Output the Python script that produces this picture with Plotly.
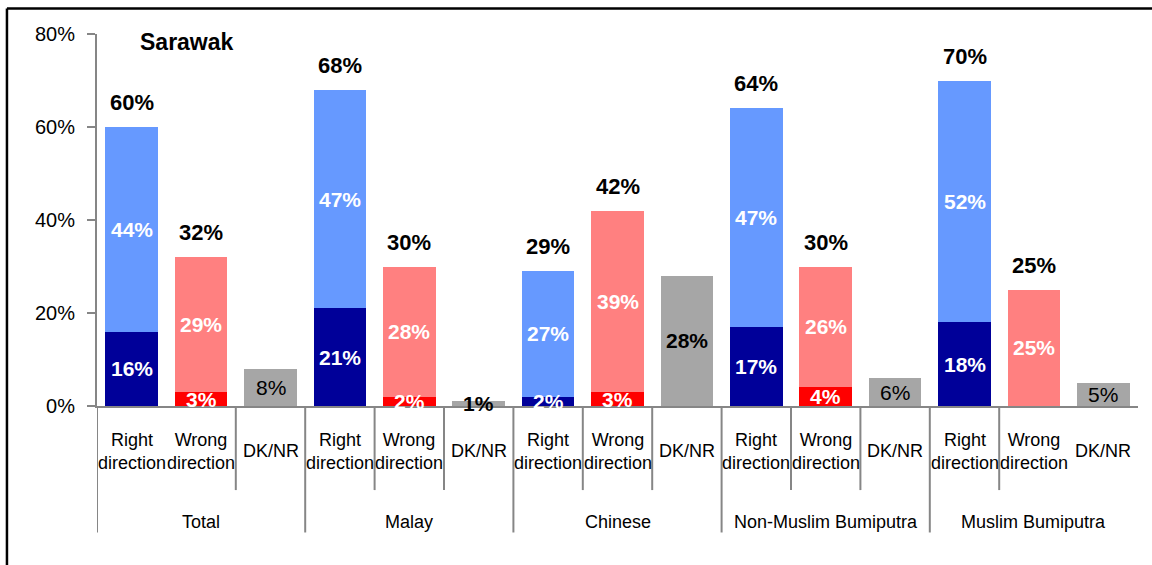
import plotly.graph_objects as go

# ---------------- data ----------------
groups = ["Total", "Malay", "Chinese", "Non-Muslim Bumiputra", "Muslim Bumiputra"]
categories = ["Right<br>direction", "Wrong<br>direction", "DK/NR"]

right_strong = [16, 21, 2, 17, 18]
right_some = [44, 47, 27, 47, 52]
wrong_strong = [3, 2, 3, 4, 0]
wrong_some = [29, 28, 39, 26, 25]
dk_nr = [8, 1, 28, 6, 5]

right_total = [60, 68, 29, 64, 70]
wrong_total = [32, 30, 42, 30, 25]

y_ticks = [0, 20, 40, 60, 80]
y_ticktext = ["0%", "20%", "40%", "60%", "80%"]

# boundaries (between category slots) where separators are drawn
inner_bounds = [1.5, 3.5, 4.5, 6.5, 7.5, 9.5, 10.5, 12.5]
group_bounds = [-0.5, 2.5, 5.5, 8.5, 11.5]

title_text = "Sarawak"

# ---------------- positions ----------------
n_cat = len(categories)
xr = [g * n_cat + 0 for g in range(len(groups))]
xw = [g * n_cat + 1 for g in range(len(groups))]
xd = [g * n_cat + 2 for g in range(len(groups))]

FONT = "Liberation Sans, Arial, sans-serif"
C_NAVY = "#000099"
C_LBLUE = "#6699FF"
C_RED = "#FF0000"
C_PINK = "#FF8080"
C_GRAY = "#A6A6A6"
AX = "#868686"
BW = 0.76

fig = go.Figure()
fig.add_bar(x=xr, y=right_strong, marker_color=C_NAVY, width=BW, marker_line_width=0)
fig.add_bar(x=xr, y=right_some, marker_color=C_LBLUE, width=BW, marker_line_width=0)
fig.add_bar(x=xw, y=wrong_strong, marker_color=C_RED, width=BW, marker_line_width=0)
fig.add_bar(x=xw, y=wrong_some, marker_color=C_PINK, width=BW, marker_line_width=0)
fig.add_bar(x=xd, y=dk_nr, marker_color=C_GRAY, width=BW, marker_line_width=0)

ann = []


def seg_labels(xs, bases, vals, color="white", size=21):
    for x, b, v in zip(xs, bases, vals):
        if v <= 0:
            continue
        ann.append(dict(x=x, y=b + v / 2, xref="x", yref="y", text=f"<b>{v}%</b>",
                        showarrow=False, font=dict(family=FONT, size=size, color=color)))


seg_labels(xr, [0] * 5, right_strong)
seg_labels(xr, right_strong, right_some)
seg_labels(xw, [0] * 5, wrong_strong)
seg_labels(xw, wrong_strong, wrong_some)
for x, v in zip(xd, dk_nr):
    t = f"{v}%"
    if v in (28, 1):
        t = f"<b>{t}</b>"
    ann.append(dict(x=x, y=v / 2, xref="x", yref="y", text=t, showarrow=False,
                    font=dict(family=FONT, size=21, color="black")))

# totals above bars
for xs, tots in ((xr, right_total), (xw, wrong_total)):
    for x, t in zip(xs, tots):
        ann.append(dict(x=x, y=t, xref="x", yref="y", text=f"<b>{t}%</b>", showarrow=False,
                        yanchor="bottom", yshift=10,
                        font=dict(family=FONT, size=22, color="black")))

# category labels
for g in range(len(groups)):
    for c, cat in enumerate(categories):
        ann.append(dict(x=g * n_cat + c, y=-0.122, xref="x", yref="paper", text=cat,
                        showarrow=False, yanchor="middle",
                        font=dict(family=FONT, size=18, color="black")))
    ann.append(dict(x=g * n_cat + 1, y=-0.313, xref="x", yref="paper", text=groups[g],
                    showarrow=False, yanchor="middle",
                    font=dict(family=FONT, size=18, color="black")))

# title
ann.append(dict(x=0.039, y=0.978, xref="paper", yref="paper", text=f"<b>{title_text}</b>",
                showarrow=False, xanchor="left", yanchor="middle",
                font=dict(family=FONT, size=23, color="black")))

shapes = []
for b in inner_bounds:
    shapes.append(dict(type="line", xref="x", yref="paper", x0=b, x1=b, y0=0, y1=-0.226,
                       line=dict(color=AX, width=2)))
for b in group_bounds:
    shapes.append(dict(type="line", xref="x", yref="paper", x0=b, x1=b, y0=0, y1=-0.34,
                       line=dict(color=AX, width=2)))
# outer frame: top and left edges only (right/bottom are cut off in the original)
shapes.append(dict(type="line", xref="paper", yref="paper", x0=-0.0865, x1=1.2, y0=1.0685, y1=1.0685,
                   line=dict(color="black", width=2.5)))
shapes.append(dict(type="line", xref="paper", yref="paper", x0=-0.0865, x1=-0.0865, y0=1.0685, y1=-1.0,
                   line=dict(color="black", width=2.5)))

fig.update_layout(
    width=1152, height=565,
    margin=dict(l=97, r=14, t=34, b=159),
    paper_bgcolor="white", plot_bgcolor="white",
    barmode="stack", showlegend=False,
    annotations=ann, shapes=shapes,
    font=dict(family=FONT, color="black"),
)
fig.update_xaxes(range=[-0.5, 14.5], showgrid=False, zeroline=False, showticklabels=False,
                 showline=True, linecolor=AX, linewidth=2, ticks="")
fig.update_yaxes(range=[0, 80], tickmode="array", tickvals=y_ticks, ticktext=y_ticktext,
                 showgrid=False, zeroline=False, showline=True, linecolor=AX, linewidth=2,
                 ticks="outside", ticklen=8, tickwidth=2, tickcolor=AX,
                 ticklabelstandoff=8,
                 tickfont=dict(family=FONT, size=20, color="black"))

fig.write_html("out.html", config={"displayModeBar": False},
               post_script="document.body.style.margin='0px';document.body.style.overflow='hidden';")
